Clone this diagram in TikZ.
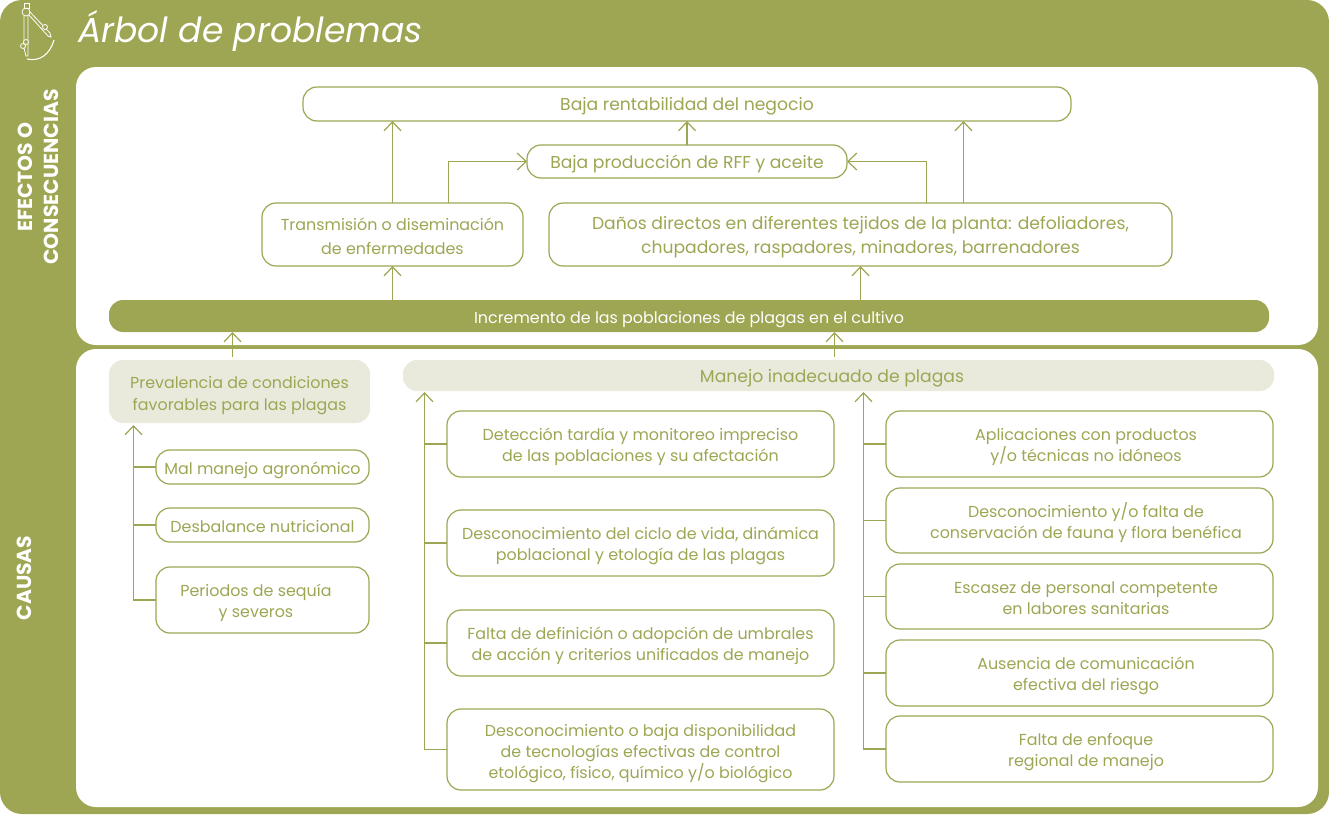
\documentclass[tikz,border=0pt]{standalone}
\usepackage{fontspec}
\setmainfont{Poppins}
\usetikzlibrary{arrows.meta}
\definecolor{olivo}{HTML}{9EA653}
\definecolor{crema}{HTML}{E9EADC}
\newcommand{\corre}{\hspace*{13pt}}
\tikzset{
  caja/.style={draw=olivo,line width=1.2pt,fill=white,rounded corners=14pt,align=center,inner sep=0pt,outer sep=0pt,text=olivo,text depth=0pt,font=\fontsize{15.9}{21}\selectfont},
  cajaalta/.style={caja,font=\fontsize{17.2}{24}\selectfont},
  cajasola/.style={caja,text height=14pt},
  cajados/.style={caja,text height=35pt},
  cajatres/.style={caja,text height=57pt},
  cajacrema/.style={caja,draw=none,fill=crema},
  panel/.style={fill=white,rounded corners=20pt},
  flecha/.style={draw=olivo,line width=1.2pt,-{Straight Barb[length=9pt,width=17pt,line width=1.2pt]}},
  rama/.style={draw=olivo,line width=1.2pt},
  icono/.style={white,line width=.8pt},
}
\begin{document}
\begin{tikzpicture}[x=1pt,y=-1pt]
  \useasboundingbox (0,0) rectangle (1329,814);
  \fill[olivo,rounded corners=22pt] (0,0) rectangle (1329,814);
  \fill[panel] (76,67) rectangle (1318,345);
  \fill[panel] (76,349) rectangle (1318,807);
  % titulo e icono
  \node[text=white,font=\fontsize{34.6}{40}\itshape,anchor=west,inner sep=0pt] (titulo) at (78,31) {Árbol de problemas};
  \draw[icono] (24,3) rectangle (29,8);
  \draw[icono] (26,12) circle (4);
  \draw[icono] (24,16) -- (24,48) (28,16) -- (28,56) -- (26,56) -- (24,48);
  \draw[icono] (29,15) -- (48,36) -- (51,37) -- (50,33) -- (30,12);
  \draw[icono,fill=olivo] (45,27) circle (2.5);
  \draw[icono,fill=olivo] (26,42) circle (2.5) (23,46) circle (2.5);
  \draw[white,line width=1.1pt] (27,59) .. controls (40,62) and (50,54) .. (54,40);
  % textos laterales
  \node[text=white,rotate=90,align=center,font=\fontsize{20.3}{26}\bfseries] (efectos) at (38,177) {EFECTOS O\\CONSECUENCIAS};
  \node[text=white,rotate=90,font=\fontsize{20.3}{26}\bfseries] (causas) at (24,578) {CAUSAS};
  % efectos
  \node[cajaalta,minimum width=768pt,minimum height=34pt] (rentabilidad) at (687,104) {Baja rentabilidad del negocio};
  \node[cajaalta,minimum width=320pt,minimum height=33pt] (produccion) at (687,161.5) {Baja producción de RFF y aceite};
  \node[caja,text height=39pt,font=\fontsize{15.9}{24}\selectfont,minimum width=261pt,minimum height=63pt] (transmision) at (392.5,234.5) {Transmisión o diseminación\\de enfermedades};
  \node[cajaalta,minimum width=623pt,minimum height=63pt] (danos) at (860.5,234.5) {Daños directos en diferentes tejidos de la planta: defoliadores,\\chupadores, raspadores, minadores, barrenadores};
  \node[cajasola,draw=none,fill=olivo,text=white,minimum width=1160pt,minimum height=32pt] (incremento) at (689,316) {Incremento de las poblaciones de plagas en el cultivo};
  % causas
  \node[cajacrema,text height=37pt,font=\fontsize{15.9}{22}\selectfont,minimum width=261pt,minimum height=63pt] (prevalencia) at (239.5,391.5) {Prevalencia de condiciones\\favorables para las plagas};
  \node[cajacrema,font=\fontsize{17.2}{22}\selectfont,minimum width=871pt,minimum height=31pt] (manejo) at (838.5,375.5) {Manejo inadecuado de plagas\corre};
  \node[cajasola,minimum width=213pt,minimum height=34pt] (malmanejo) at (262.5,467) {Mal manejo agronómico};
  \node[cajasola,minimum width=213pt,minimum height=34pt] (desbalance) at (262.5,525) {Desbalance nutricional};
  \node[cajados,minimum width=213pt,minimum height=66pt] (periodos) at (262.5,600) {Periodos de sequía\corre\\y severos\corre};
  \node[cajados,minimum width=387pt,minimum height=66pt] (deteccion) at (640.5,444) {Detección tardía y monitoreo impreciso\\de las poblaciones y su afectación};
  \node[cajados,minimum width=387pt,minimum height=66pt] (ciclo) at (640.5,543) {Desconocimiento del ciclo de vida, dinámica\\poblacional y etología de las plagas};
  \node[cajados,minimum width=387pt,minimum height=66pt] (umbrales) at (640.5,643) {Falta de definición o adopción de umbrales\\de acción y criterios unificados de manejo};
  \node[cajatres,minimum width=387pt,minimum height=81pt] (tecnologias) at (640.5,749.5) {Desconocimiento o baja disponibilidad\\de tecnologías efectivas de control\\etológico, físico, químico y/o biológico};
  \node[cajados,minimum width=387pt,minimum height=66pt] (aplicaciones) at (1079.5,444) {\corre Aplicaciones con productos\\\corre y/o técnicas no idóneos};
  \node[cajados,minimum width=387pt,minimum height=65pt] (fauna) at (1079.5,520.5) {\corre Desconocimiento y/o falta de\\\corre conservación de fauna y flora benéfica};
  \node[cajados,minimum width=387pt,minimum height=65pt] (personal) at (1079.5,596.5) {\corre Escasez de personal competente\\\corre en labores sanitarias};
  \node[cajados,minimum width=387pt,minimum height=66pt] (comunicacion) at (1079.5,673) {\corre Ausencia de comunicación\\\corre efectiva del riesgo};
  \node[cajados,minimum width=387pt,minimum height=66pt] (enfoque) at (1079.5,749) {\corre Falta de enfoque\\\corre regional de manejo};
  % puntos libres
  \coordinate (troncoa) at (133.5,425);
  \coordinate (troncob) at (424.5,392);
  \coordinate (troncoc) at (863.5,392);
  \coordinate (salea) at (232.5,357);
  \coordinate (saleb) at (834.5,357);
  % conectores
  \draw[flecha] (salea) -- (salea |- incremento.south);
  \draw[flecha] (saleb) -- (saleb |- incremento.south);
  \draw[flecha] (incremento.north -| transmision) -- (transmision.south);
  \draw[flecha] (incremento.north -| danos) -- (danos.south);
  \draw[flecha] (transmision.north) -- (transmision |- rentabilidad.south);
  \draw[flecha] (produccion.north) -- (rentabilidad.south);
  \draw[flecha] (danos.north -| 963.5,0) -- (963.5,0 |- rentabilidad.south);
  \draw[flecha] (transmision.north -| 448.5,0) |- (produccion.west);
  \draw[flecha] (danos.north -| 926.5,0) |- (produccion.east);
  \draw[flecha] (periodos.west) -| (troncoa);
  \draw[rama] (malmanejo.west) -- (malmanejo.west -| troncoa);
  \draw[rama] (desbalance.west) -- (desbalance.west -| troncoa);
  \draw[flecha] (tecnologias.west) -| (troncob);
  \draw[rama] (deteccion.west) -- (deteccion.west -| troncob);
  \draw[rama] (ciclo.west) -- (ciclo.west -| troncob);
  \draw[rama] (umbrales.west) -- (umbrales.west -| troncob);
  \draw[flecha] (enfoque.west) -| (troncoc);
  \draw[rama] (aplicaciones.west) -- (aplicaciones.west -| troncoc);
  \draw[rama] (fauna.west) -- (fauna.west -| troncoc);
  \draw[rama] (personal.west) -- (personal.west -| troncoc);
  \draw[rama] (comunicacion.west) -- (comunicacion.west -| troncoc);
\end{tikzpicture}
\end{document}
